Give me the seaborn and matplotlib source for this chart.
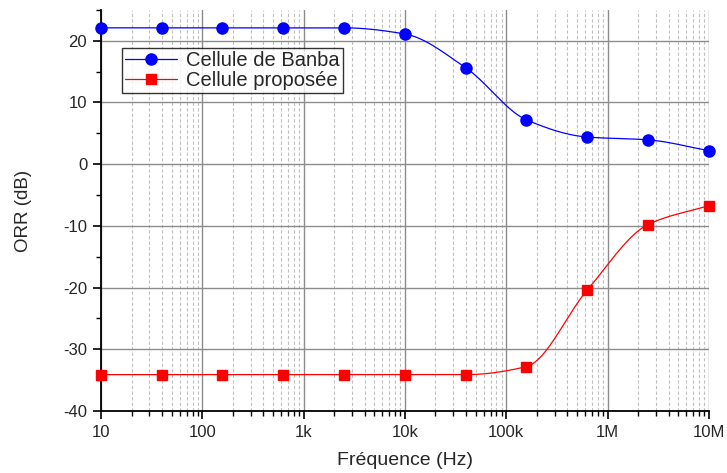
#!/usr/bin/env python3
"""ORR vs frequency: Banba cell vs proposed cell"""

import numpy as np
import pandas as pd
import matplotlib
matplotlib.use("Agg")
import matplotlib.pyplot as plt
import matplotlib.ticker as mticker
from matplotlib.lines import Line2D
import seaborn as sns

# data (Hz, dB)
freq = [10, 40, 158, 630, 2500, 10000, 40000, 158000, 630000, 2500000, 10000000]
orr_banba = [22.1, 22.1, 22.1, 22.1, 22.1, 21.1, 15.6, 7.2, 4.4, 3.95, 2.2]
orr_proposed = [-34.1, -34.1, -34.1, -34.1, -34.1, -34.1, -34.1, -32.8, -20.4, -9.8, -6.7]
series_names = ["Cellule de Banba", "Cellule proposée"]
xtick_labels = ["10", "100", "1k", "10k", "100k", "1M", "10M"]


def pchip(x, y, xs):
    """monotone cubic curve through the points, for a smooth line like Origin draws"""
    x = np.asarray(x, float)
    y = np.asarray(y, float)
    h = np.diff(x)
    d = np.diff(y) / h
    m = np.zeros_like(y)
    for k in range(1, len(x) - 1):
        if d[k - 1] * d[k] > 0:
            w1 = 2 * h[k] + h[k - 1]
            w2 = h[k] + 2 * h[k - 1]
            m[k] = (w1 + w2) / (w1 / d[k - 1] + w2 / d[k])
    m[0] = d[0]
    m[-1] = d[-1]
    idx = np.clip(np.searchsorted(x, xs) - 1, 0, len(h) - 1)
    t = (xs - x[idx]) / h[idx]
    h00 = 2 * t**3 - 3 * t**2 + 1
    h10 = t**3 - 2 * t**2 + t
    h01 = -2 * t**3 + 3 * t**2
    h11 = t**3 - t**2
    return h00 * y[idx] + h10 * h[idx] * m[idx] + h01 * y[idx + 1] + h11 * h[idx] * m[idx + 1]


sns.set_theme(style="white")
plt.rcParams["font.family"] = ["Liberation Sans", "DejaVu Sans"]
plt.rcParams["axes.unicode_minus"] = False

fig = plt.figure(figsize=(7.27, 4.73), dpi=100)
ax = fig.add_axes([0.139, 0.131, 0.836, 0.848])

logf = np.log10(freq)
xs = np.linspace(logf[0], logf[-1], 400)
colors = ["#0000ff", "#ff0000"]
markers = ["o", "s"]
msizes = [8, 7]

points = pd.DataFrame({
    "freq": freq * 2,
    "orr": orr_banba + orr_proposed,
    "serie": [series_names[0]] * len(freq) + [series_names[1]] * len(freq),
})

for name, vals, c in zip(series_names, [orr_banba, orr_proposed], colors):
    smooth = pd.DataFrame({"freq": 10 ** xs, "orr": pchip(logf, vals, xs)})
    sns.lineplot(data=smooth, x="freq", y="orr", color=c, linewidth=0.9, ax=ax)

for name, c, mk, ms in zip(series_names, colors, markers, msizes):
    sub = points[points["serie"] == name]
    ax.plot(sub["freq"], sub["orr"], linestyle="none", marker=mk, color=c,
            markersize=ms, clip_on=False, zorder=5)

ax.set_xscale("log")
ax.set_xlim(10, 1e7)
ax.set_ylim(-40, 25)
ax.set_xticks([10 ** k for k in range(1, 8)])
ax.set_xticklabels(xtick_labels)
ax.xaxis.set_minor_locator(mticker.LogLocator(base=10, subs=np.arange(2, 10), numticks=20))
ax.xaxis.set_minor_formatter(mticker.NullFormatter())
ax.set_yticks(range(-40, 21, 10))
ax.yaxis.set_minor_locator(mticker.MultipleLocator(5))

ax.grid(which="major", axis="both", color="#8c8c8c", linewidth=1.0, linestyle="-")
ax.grid(which="minor", axis="x", color="#c0c0c0", linewidth=0.8, linestyle=(0, (3, 2)))
ax.set_axisbelow(True)

for side in ["top", "right"]:
    ax.spines[side].set_visible(False)
for side in ["left", "bottom"]:
    ax.spines[side].set_color("black")
    ax.spines[side].set_linewidth(1.3)

ax.tick_params(which="major", direction="out", length=6, width=1.2, color="black",
               labelsize=12, left=True, bottom=True, pad=4)
ax.tick_params(which="minor", direction="out", length=3.5, width=1.0, color="black",
               left=True, bottom=True)

ax.set_xlabel("Fréquence (Hz)", fontsize=14, labelpad=9)
ax.set_ylabel("ORR (dB)", fontsize=13.5, labelpad=22)

handles = [Line2D([], [], color=c, marker=mk, markersize=ms, linewidth=0.9)
           for c, mk, ms in zip(colors, markers, msizes)]
leg = ax.legend(handles, series_names, loc="upper left", bbox_to_anchor=(0.034, 0.905),
                fontsize=14.5, frameon=True, fancybox=False, borderpad=0.15,
                labelspacing=0.05, handlelength=2.6, handletextpad=0.45, borderaxespad=0)
leg.get_frame().set_edgecolor("black")
leg.get_frame().set_linewidth(1.0)

fig.savefig("out.png", dpi=100)
